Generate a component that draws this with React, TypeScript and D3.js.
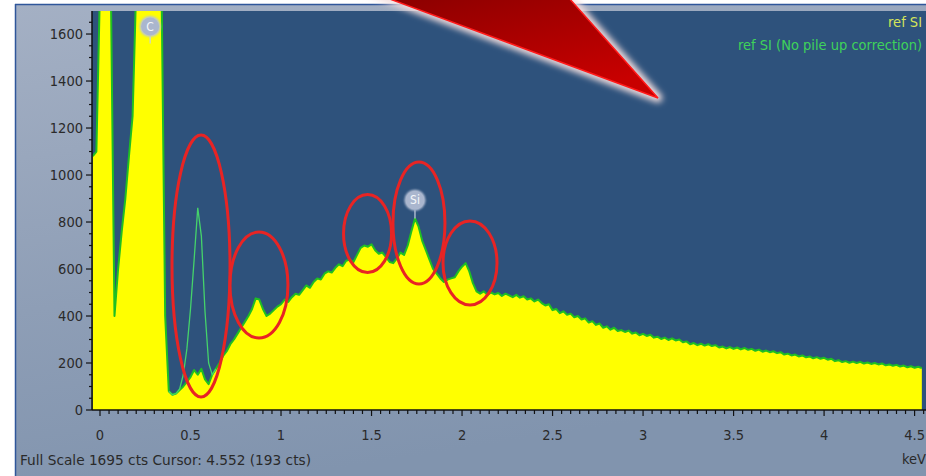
import * as d3 from "d3";

const W = 926;
const H = 476;

// spectrum channels: start energy (keV), step (keV)
const refStart = -0.04;
const refStep = 0.02;
// "ref SI" counts per 0.02 keV channel
const refCounts = [
  1080, 1100, 1800, 1800, 1800, 1800, 400, 600, 760, 900, 1080, 1250,
  1800, 1800, 1800, 1800, 1800, 1800, 1800, 1800, 400, 80, 65, 70,
  85, 100, 120, 140, 170, 150, 175, 130, 110, 150, 175, 200,
  230, 250, 280, 300, 325, 350, 375, 400, 430, 475, 470, 430,
  400, 410, 425, 440, 450, 470, 460, 480, 495, 490, 510, 530,
  520, 545, 560, 555, 580, 590, 585, 605, 620, 612, 635, 640,
  630, 660, 690, 700, 695, 705, 680, 665, 670, 650, 630, 625,
  645, 670, 660, 700, 760, 815, 780, 720, 680, 640, 600, 580,
  560, 545, 555, 560, 565, 590, 610, 625, 590, 540, 505, 495,
  505, 490, 500, 492, 498, 485, 495, 488, 480, 490, 478, 484,
  470, 475, 462, 470, 455, 445, 450, 425, 430, 412, 420, 405,
  410, 395, 400, 385, 390, 372, 378, 362, 368, 350, 356, 342,
  350, 336, 340, 332, 338, 325, 330, 318, 324, 315, 320, 308,
  312, 302, 308, 298, 305, 296, 300, 288, 292, 280, 285, 276,
  282, 274, 280, 272, 276, 266, 270, 262, 268, 260, 266, 258,
  264, 256, 260, 252, 257, 248, 253, 246, 250, 242, 246, 236,
  240, 232, 236, 228, 232, 224, 228, 220, 225, 218, 222, 214,
  218, 208, 212, 204, 208, 201, 206, 200, 205, 198, 202, 196,
  200, 194, 198, 190, 194, 188, 192, 185, 189, 182, 186, 180,
  184, 178,
];

// "ref SI (No pile up correction)" where it leaves the yellow trace (O K peak)
const noPileStart = 0.38;
const noPileCounts = [80, 65, 70, 90, 150, 260, 430, 640, 860, 740, 420, 200, 150, 175];

const xTicks = [0, 0.5, 1, 1.5, 2, 2.5, 3, 3.5, 4, 4.5];
const yTicks = [0, 200, 400, 600, 800, 1000, 1200, 1400, 1600];
const legendLabels = ["ref SI", "ref SI (No pile up correction)"];
const statusText = "Full Scale 1695 cts Cursor: 4.552 (193 cts)";

const peakLabels = ["C", "Si"];
const peakEnergy = [0.277, 1.74];
const peakLabelCounts = [1632, 893];
const peakTopCounts = [1560, 815];

// red circles drawn over the spectrum: centre (keV, cts), radii in px
const ringEnergy = [0.558, 0.878, 1.478, 1.762, 2.044];
const ringCounts = [613, 532, 751, 796, 626];
const ringRx = [29, 29, 24, 26, 27];
const ringRy = [131, 53, 39, 61, 42];

// big red pointer, in page pixels
const arrowPts: [number, number][] = [[360, -12], [560, -12], [658, 98]];

const plot = { left: 92, right: 926, top: 11, bottom: 410 };
const font = "'DejaVu Sans Condensed', 'Liberation Sans', sans-serif";
const fs = 14.5;

export default function App() {
  const x = d3.scaleLinear().domain([-0.0442, 4.563]).range([plot.left, plot.right]);
  const y = d3.scaleLinear().domain([0, 1698]).range([plot.bottom, plot.top]);

  const ref = refCounts.map((c, i) => [refStart + i * refStep, c] as [number, number]);
  const noPile = noPileCounts.map((c, i) => [noPileStart + i * refStep, c] as [number, number]);

  const area = d3.area<[number, number]>()
    .x(d => x(d[0]))
    .y0(y(0))
    .y1(d => y(d[1]));
  const line = d3.line<[number, number]>()
    .x(d => x(d[0]))
    .y(d => y(d[1]));

  const xMinor = d3.range(0, 4.56, 0.05);
  const yMinor = d3.range(0, 1700, 50);

  return (
    <svg width={W} height={H} style={{ position: "absolute", left: 0, top: 0, display: "block" }}>
      <defs>
        <linearGradient id="panel" x1="0" y1="0" x2="0.3" y2="1">
          <stop offset="0" stopColor="#a4b0c4" />
          <stop offset="0.6" stopColor="#8e9eb6" />
          <stop offset="1" stopColor="#8194ae" />
        </linearGradient>
        <linearGradient id="arrowFill" x1="0" y1="0" x2="0.6" y2="1">
          <stop offset="0" stopColor="#840000" />
          <stop offset="1" stopColor="#c80000" />
        </linearGradient>
        <filter id="glow" x="-20%" y="-20%" width="140%" height="140%">
          <feGaussianBlur stdDeviation="3" />
        </filter>
        <filter id="soft" x="-50%" y="-50%" width="200%" height="200%">
          <feGaussianBlur stdDeviation="1.2" />
        </filter>
        <clipPath id="plotClip">
          <rect x={plot.left} y={plot.top} width={plot.right - plot.left} height={plot.bottom - plot.top} />
        </clipPath>
      </defs>

      <rect x={0} y={0} width={W} height={H} fill="#ffffff" />
      <rect x={15} y={4} width={W - 15} height={H - 4} fill="url(#panel)" />
      <line x1={15} x2={W} y1={4.5} y2={4.5} stroke="#2f569a" strokeWidth={1.5} />
      <line x1={15.5} x2={15.5} y1={4} y2={H} stroke="#2f569a" strokeWidth={1.5} />

      <rect x={plot.left} y={plot.top} width={plot.right - plot.left} height={plot.bottom - plot.top} fill="#2e527c" />

      <g clipPath="url(#plotClip)">
        <path d={area(ref) ?? ""} fill="#ffff00" />
        <path d={line(ref) ?? ""} fill="none" stroke="#1fbf22" strokeWidth={2} strokeLinejoin="round" />
        <path d={line(noPile) ?? ""} fill="none" stroke="#45d36a" strokeWidth={1.3} />
      </g>

      {/* axes */}
      <line x1={plot.left} x2={plot.left} y1={plot.top} y2={plot.bottom} stroke="#111" strokeWidth={1.5} />
      <line x1={plot.left} x2={plot.right} y1={plot.bottom} y2={plot.bottom} stroke="#111" strokeWidth={1.5} />
      {yMinor.map(v => (
        <line key={"ym" + v} x1={plot.left - (v % 200 === 0 ? 6 : 3)} x2={plot.left} y1={y(v)} y2={y(v)} stroke="#111" strokeWidth={1.2} />
      ))}
      {yTicks.map(v => (
        <text key={"yt" + v} x={83} y={y(v)} dy="0.36em" textAnchor="end" fontFamily={font} fontSize={fs} fill="#2a2a2a">{v}</text>
      ))}
      {xMinor.map((v, i) => (
        <line key={"xm" + i} x1={x(v)} x2={x(v)} y1={plot.bottom} y2={plot.bottom + (i % 10 === 0 ? 6 : 4)} stroke="#111" strokeWidth={1.2} />
      ))}
      {xTicks.map(v => (
        <text key={"xt" + v} x={x(v)} y={440} textAnchor="middle" fontFamily={font} fontSize={fs} fill="#2a2a2a">{v}</text>
      ))}
      <text x={20} y={465} fontFamily={font} fontSize={fs} fill="#2a2a2a" textLength={291} lengthAdjust="spacingAndGlyphs">{statusText}</text>
      <text x={926} y={464} textAnchor="end" fontFamily={font} fontSize={fs} fill="#2a2a2a">keV</text>

      {/* legend */}
      <text x={922} y={27} textAnchor="end" fontFamily={font} fontSize={fs} fill="#d4e45a">{legendLabels[0]}</text>
      <text x={922} y={50} textAnchor="end" fontFamily={font} fontSize={fs} fill="#3fd25a">{legendLabels[1]}</text>

      {/* peak labels */}
      {peakLabels.map((lab, i) => {
        const cx = x(peakEnergy[i]);
        const cy = y(peakLabelCounts[i]);
        return (
          <g key={lab}>
            <line x1={cx} x2={cx} y1={cy + 10} y2={y(peakTopCounts[i])} stroke="#c8d0e0" strokeWidth={1.2} />
            <circle cx={cx} cy={cy} r={10.5} fill="#b9c3d8" filter="url(#soft)" />
            <circle cx={cx} cy={cy} r={9} fill="#aab6ce" />
            <text x={cx} y={cy} dy="0.36em" textAnchor="middle" fontFamily={font} fontSize={12} fill="#f4f6fa">{lab}</text>
          </g>
        );
      })}

      {/* red rings */}
      {ringEnergy.map((e, i) => (
        <ellipse key={"r" + i} cx={x(e)} cy={y(ringCounts[i])} rx={ringRx[i]} ry={ringRy[i]} fill="none" stroke="#e82424" strokeWidth={3} />
      ))}

      {/* pointer */}
      <polygon points={arrowPts.map(p => p.join(",")).join(" ")} fill="none" stroke="#f2dede" strokeWidth={9} strokeLinejoin="round" filter="url(#glow)" />
      <polygon points={arrowPts.map(p => p.join(",")).join(" ")} fill="url(#arrowFill)" stroke="#ff1a1a" strokeWidth={1.5} strokeLinejoin="miter" />
    </svg>
  );
}
